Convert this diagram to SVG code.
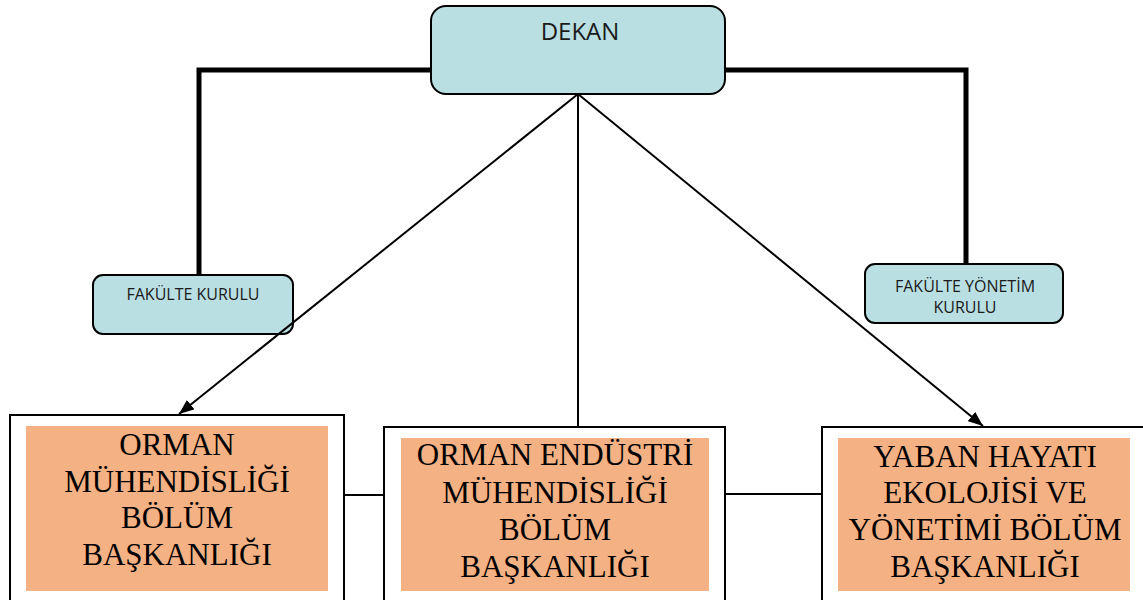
<svg xmlns="http://www.w3.org/2000/svg" width="1143" height="600" viewBox="0 0 1143 600">
<style>
.blue{fill:#b9dfe3;stroke:#000;stroke-width:2}
.outer{fill:#fff;stroke:#000;stroke-width:2}
.orange{fill:#f4b183;stroke:none}
.sans{font-family:"Open Sans","DejaVu Sans",sans-serif;fill:#1a1a1a;text-anchor:middle}
.serif{font-family:"Liberation Serif","Times New Roman",serif;font-size:31px;fill:#000;text-anchor:middle}
.thick{fill:none;stroke:#000;stroke-width:5}
.thin{fill:none;stroke:#000;stroke-width:2}
</style>
<defs>
<marker id="arr" markerUnits="userSpaceOnUse" markerWidth="16" markerHeight="12" refX="15" refY="6" orient="auto">
<path d="M0,0 L15,6 L0,12 Z" fill="#000"/>
</marker>
</defs>
<rect width="1143" height="600" fill="#fff"/>
<g id="connectors-back">
<path class="thick" d="M432,70 H199 V275"/>
<path class="thick" d="M724,70 H966 V264"/>
</g>
<g id="dekan">
<rect class="blue" x="431" y="6" width="294" height="88" rx="15"/>
<text class="sans" x="580" y="40" font-size="24">DEKAN</text>
</g>
<g id="fakulte-kurulu">
<rect class="blue" x="93" y="275" width="200" height="59" rx="10"/>
<text class="sans" x="193" y="300" font-size="16">FAKÜLTE KURULU</text>
</g>
<g id="fakulte-yonetim-kurulu">
<rect class="blue" x="865" y="264" width="198" height="59" rx="10"/>
<text class="sans" x="965" y="292" font-size="16">FAKÜLTE YÖNETİM</text>
<text class="sans" x="965" y="313" font-size="16">KURULU</text>
</g>
<g id="orman-muhendisligi">
<rect class="outer" x="10" y="415" width="334" height="195"/>
<rect class="orange" x="26" y="426" width="302" height="165"/>
<text class="serif" x="177" y="455">ORMAN</text>
<text class="serif" x="177" y="492">MÜHENDİSLİĞİ</text>
<text class="serif" x="177" y="528">BÖLÜM</text>
<text class="serif" x="177" y="565">BAŞKANLIĞI</text>
</g>
<g id="orman-endustri">
<rect class="outer" x="384" y="427" width="341" height="190"/>
<rect class="orange" x="401" y="438" width="308" height="153"/>
<text class="serif" x="555" y="465">ORMAN ENDÜSTRİ</text>
<text class="serif" x="555" y="503">MÜHENDİSLİĞİ</text>
<text class="serif" x="555" y="540">BÖLÜM</text>
<text class="serif" x="555" y="577">BAŞKANLIĞI</text>
</g>
<g id="yaban-hayati">
<rect class="outer" x="822" y="427" width="330" height="190"/>
<rect class="orange" x="838" y="438" width="292" height="153"/>
<text class="serif" x="985" y="467">YABAN HAYATI</text>
<text class="serif" x="985" y="503">EKOLOJİSİ VE</text>
<text class="serif" x="985" y="540">YÖNETİMİ BÖLÜM</text>
<text class="serif" x="985" y="577">BAŞKANLIĞI</text>
</g>
<g id="connectors">
<line class="thin" x1="578" y1="94" x2="179" y2="414" marker-end="url(#arr)"/>
<line class="thin" x1="578" y1="94" x2="578" y2="427"/>
<line class="thin" x1="578" y1="94" x2="983" y2="426" marker-end="url(#arr)"/>
<line class="thin" x1="344" y1="495" x2="384" y2="495"/>
<line class="thin" x1="725" y1="494" x2="822" y2="494"/>
</g>
</svg>
